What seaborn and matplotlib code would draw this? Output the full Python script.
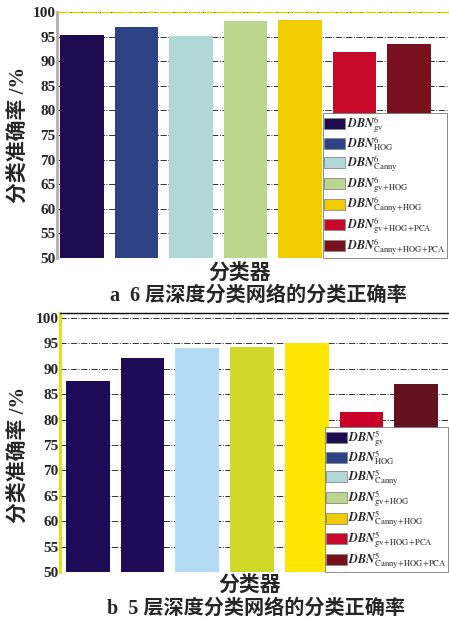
import matplotlib
matplotlib.use("Agg")
import matplotlib.pyplot as plt
import seaborn as sns
import pandas as pd
from matplotlib.patches import Patch

# ---- data ----
classifiers = ["gv", "HOG", "Canny", "gv+HOG", "Canny+HOG", "gv+HOG+PCA", "Canny+HOG+PCA"]
acc_6layer = [95.4, 96.9, 95.1, 98.2, 98.4, 91.9, 93.4]
acc_5layer = [87.7, 92.2, 94.1, 94.3, 95.1, 81.5, 87.1]

colors_a = ["#1e0c50", "#2e4286", "#b0d8d6", "#bcd68e", "#f0cc00", "#c8082a", "#78101e"]
colors_b = ["#1e0c58", "#1e0c58", "#b4dcf4", "#d0d82a", "#ffe600", "#c8002a", "#641222"]
legend_colors = colors_a

ylabel = "分类准确率 /%"
xlabel = "分类器"
caption_a = "a  6 层深度分类网络的分类正确率"
caption_b = "b  5 层深度分类网络的分类正确率"

sns.set_theme(style="white")
plt.rcParams["font.family"] = ["Liberation Serif", "Noto Sans CJK SC"]
plt.rcParams["mathtext.fontset"] = "stix"

W, H = 449, 621
fig = plt.figure(figsize=(W / 100, H / 100), dpi=100)


def sub_text(name):
    # tight "+" inside the subscript
    return r"\!+\!".join(r"\mathrm{%s}" % p for p in name.split("+"))


def panel(rect, values, colors, layers, ylim, xlim, leg_x, left_color, top_line):
    ax = fig.add_axes(rect)
    df = pd.DataFrame({"clf": classifiers, "acc": values})
    sns.barplot(data=df, x="clf", y="acc", hue="clf", palette=colors, saturation=1,
                legend=False, width=0.8, linewidth=0, ax=ax, zorder=2)
    ax.set_ylim(*ylim)
    ax.set_xlim(*xlim)
    ax.set_xticks([])
    ax.set_yticks(range(50, 101, 5))
    ax.tick_params(axis="y", labelsize=11, pad=1, length=0)
    for t in ax.get_yticklabels():
        t.set_fontweight("bold")
    ax.yaxis.grid(True, linestyle="-.", color="#333333", linewidth=0.7, zorder=0)
    ax.set_axisbelow(True)
    for s in ["right", "bottom"]:
        ax.spines[s].set_visible(False)
    ax.spines["left"].set_color(left_color)
    ax.spines["left"].set_linewidth(2)
    if top_line:
        ax.spines["top"].set_color("black")
        ax.spines["top"].set_linewidth(1)
    else:
        ax.spines["top"].set_color("#d8d800")
        ax.spines["top"].set_linewidth(1)
        ax.spines["top"].set_linestyle("-.")
    ax.set_xlabel("")
    ax.set_ylabel("")
    handles = [Patch(facecolor=c, edgecolor="#888888", linewidth=0.6) for c in legend_colors]
    labels = [r"$\mathbfit{DBN}^{%d}_{%s}$" % (layers, sub_text(c)) for c in classifiers]
    leg = ax.legend(handles, labels, loc="lower left", bbox_to_anchor=(leg_x, 0.0),
                    borderaxespad=0, fontsize=8.8, frameon=True, fancybox=False,
                    handlelength=1.7, handleheight=1.0, handletextpad=0.15,
                    labelspacing=0.0, borderpad=0.1)
    leg.get_frame().set_edgecolor("#777777")
    leg.get_frame().set_linewidth(0.6)
    leg.get_frame().set_alpha(1)
    return ax


ax1 = panel([57 / W, 1 - 258 / H, 1 - 57 / W, 246 / H], acc_6layer, colors_a, 6,
            (50, 100), (-0.46, 6.73), 0.679, "#b0b0b0", False)
ax2 = panel([60 / W, 1 - 572 / H, 1 - 60 / W, 259 / H], acc_5layer, colors_b, 5,
            (50, 101), (-0.51, 6.6), 0.68, "#e0e000", True)

cjk = ["Liberation Serif", "Noto Sans CJK SC"]
fig.text(20 / W, 1 - 135 / H, ylabel, rotation=90, ha="center", va="center",
         fontsize=15, fontweight="bold", family=cjk)
fig.text(20 / W, 1 - 455 / H, ylabel, rotation=90, ha="center", va="center",
         fontsize=15, fontweight="bold", family=cjk)
fig.text(240 / W, 1 - 275 / H, xlabel, ha="center", va="center",
         fontsize=15, fontweight="bold", family=cjk)
fig.text(250 / W, 1 - 587 / H, xlabel, ha="center", va="center",
         fontsize=15, fontweight="bold", family=cjk)
fig.text(258 / W, 1 - 296 / H, caption_a, ha="center", va="center",
         fontsize=14.5, fontweight="bold", family=cjk)
fig.text(256 / W, 1 - 609 / H, caption_b, ha="center", va="center",
         fontsize=14.5, fontweight="bold", family=cjk)

fig.savefig("out.png", dpi=100)
